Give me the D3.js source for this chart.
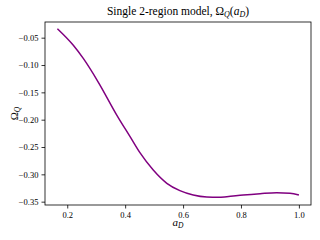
<!DOCTYPE html>
<html><head><meta charset="utf-8">
<script src="https://cdn.jsdelivr.net/npm/d3@7"></script>
<style>body{margin:0;background:#fff}svg{display:block}text{font-family:"Liberation Serif","DejaVu Serif",serif}</style>
</head><body>
<script>
const aD = [0.166,0.221,0.256,0.307,0.371,0.417,0.451,0.497,0.544,0.589,0.635,0.682,0.722,0.751,0.808,0.866,0.923,0.969,1.0];
const omegaQ = [-0.0336,-0.0639,-0.0884,-0.1311,-0.1915,-0.2311,-0.2604,-0.2921,-0.3164,-0.3299,-0.3378,-0.3415,-0.3420,-0.3409,-0.3378,-0.3354,-0.3336,-0.3347,-0.3378];
const xTicks = [0.2,0.4,0.6,0.8,1.0];
const yTicks = [-0.05,-0.10,-0.15,-0.20,-0.25,-0.30,-0.35];

const W=320,H=240, L=45,R=311,T=22,B=205;
const svg=d3.select("body").append("svg").attr("width",W).attr("height",H);
const x=d3.scaleLinear().domain([0.1232,1.0418]).range([L,R]);
const y=d3.scaleLinear().domain([-0.3561,-0.0213]).range([B,T]);

const xa=svg.append("g").attr("transform",`translate(0,${B})`).call(d3.axisBottom(x).tickValues(xTicks).tickSize(3.5).tickPadding(3).tickFormat(d=>d.toFixed(1)));
const ya=svg.append("g").attr("transform",`translate(${L},0)`).call(d3.axisLeft(y).tickValues(yTicks).tickSize(3.5).tickPadding(3).tickFormat(d=>d.toFixed(2).replace("-","\u2212")));
[xa,ya].forEach(g=>{g.select(".domain").remove();g.selectAll("line").attr("stroke","#000").attr("stroke-width",0.8);g.selectAll("text").attr("font-size",8.5).attr("fill","#000").attr("font-family","Liberation Serif, serif");});

svg.append("rect").attr("x",L).attr("y",T).attr("width",R-L).attr("height",B-T).attr("fill","none").attr("stroke","#000").attr("stroke-width",0.8);

const pts=aD.map((a,i)=>[a,omegaQ[i]]);
svg.append("path").datum(pts).attr("fill","none").attr("stroke","#800080").attr("stroke-width",1.5)
 .attr("d",d3.line().x(d=>x(d[0])).y(d=>y(d[1])).curve(d3.curveMonotoneX));

const t=svg.append("text").attr("x",(L+R)/2).attr("y",15).attr("text-anchor","middle").attr("font-size",11.5);
t.append("tspan").text("Single 2-region model, \u03A9");
t.append("tspan").attr("font-size",8).attr("dy",2).attr("font-style","italic").text("Q");
t.append("tspan").attr("dy",-2).text("(");
t.append("tspan").attr("font-style","italic").text("a");
t.append("tspan").attr("font-size",8).attr("dy",2).attr("font-style","italic").text("D");
t.append("tspan").attr("dy",-2).text(")");

const xl=svg.append("text").attr("x",(L+R)/2).attr("y",226).attr("text-anchor","middle").attr("font-size",11);
xl.append("tspan").attr("font-style","italic").text("a");
xl.append("tspan").attr("font-size",7.5).attr("dy",2).attr("font-style","italic").text("D");

const yl=svg.append("text").attr("transform",`translate(18,${(T+B)/2}) rotate(-90)`).attr("text-anchor","middle").attr("font-size",11);
yl.append("tspan").text("\u03A9");
yl.append("tspan").attr("font-size",7.5).attr("dy",2).attr("font-style","italic").text("Q");
</script>
</body></html>
